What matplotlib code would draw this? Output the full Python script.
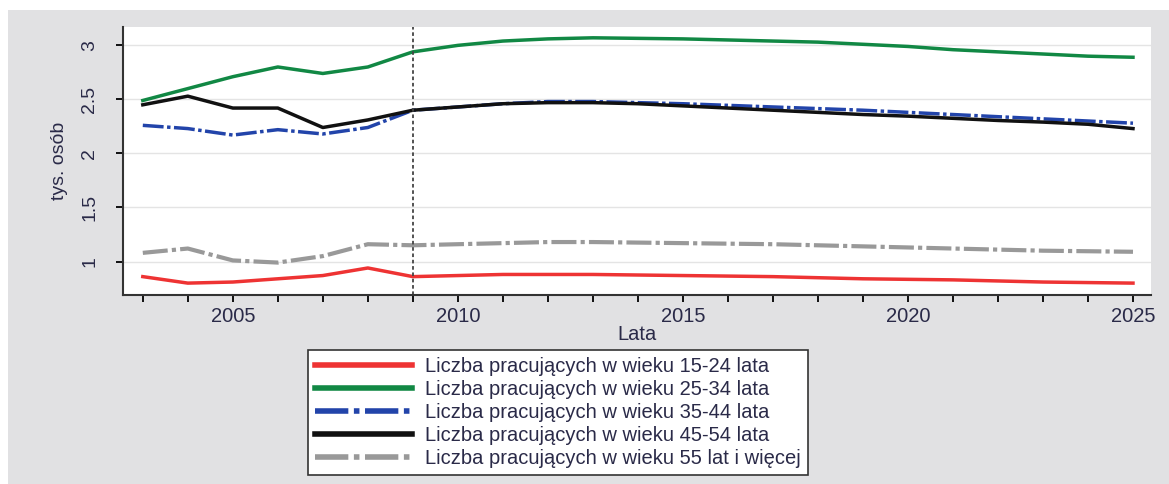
import numpy as np
import matplotlib.pyplot as plt
from matplotlib.patches import Rectangle

plt.rcParams['font.family'] = ['Liberation Sans', 'DejaVu Sans']

years = list(range(2003, 2026))

# liczba pracujacych, tys. osob
age_15_24 = [0.86, 0.80, 0.81, 0.84, 0.87, 0.94, 0.86, 0.87, 0.88, 0.88, 0.88, 0.875, 0.87,
             0.865, 0.86, 0.85, 0.84, 0.835, 0.83, 0.82, 0.81, 0.805, 0.80]
age_25_34 = [2.49, 2.60, 2.71, 2.80, 2.74, 2.80, 2.94, 3.00, 3.04, 3.06, 3.07, 3.065, 3.06,
             3.05, 3.04, 3.03, 3.01, 2.99, 2.96, 2.94, 2.92, 2.90, 2.89]
age_35_44 = [2.26, 2.23, 2.17, 2.22, 2.18, 2.24, 2.40, 2.43, 2.46, 2.48, 2.48, 2.47, 2.46,
             2.445, 2.43, 2.415, 2.40, 2.38, 2.36, 2.34, 2.32, 2.30, 2.28]
age_45_54 = [2.45, 2.53, 2.42, 2.42, 2.24, 2.31, 2.40, 2.43, 2.46, 2.47, 2.47, 2.46, 2.44,
             2.42, 2.40, 2.38, 2.36, 2.345, 2.325, 2.305, 2.29, 2.27, 2.23]
age_55 = [1.08, 1.12, 1.01, 0.99, 1.05, 1.16, 1.15, 1.16, 1.17, 1.18, 1.18, 1.175, 1.17,
          1.165, 1.16, 1.15, 1.14, 1.13, 1.12, 1.11, 1.10, 1.095, 1.09]

labels = ["Liczba pracujących w wieku 15-24 lata",
          "Liczba pracujących w wieku 25-34 lata",
          "Liczba pracujących w wieku 35-44 lata",
          "Liczba pracujących w wieku 45-54 lata",
          "Liczba pracujących w wieku 55 lat i więcej"]

txt = '#2a2a48'

fig = plt.figure(figsize=(11.69, 4.84), dpi=100)
fig.patches.append(Rectangle((8/1169, 0), 1, 1 - 10/484, transform=fig.transFigure,
                             facecolor='#e1e1e3', edgecolor='none', zorder=-1))

ax = fig.add_axes([123/1169, 1 - 295/484, 1028/1169, 268/484])
ax.set_facecolor('white')

ax.plot(years, age_15_24, color='#ee3333', lw=2.5, label=labels[0])
ax.plot(years, age_25_34, color='#118844', lw=2.5, label=labels[1])
ax.plot(years, age_35_44, color='#2244aa', lw=2.5, ls=(0, (6, 1, 1, 1)), label=labels[2])
ax.plot(years, age_45_54, color='#111111', lw=2.5, label=labels[3])
ax.plot(years, age_55, color='#999999', lw=3, ls=(0, (6, 1, 1, 1)), label=labels[4])

ax.axvline(2009, color='#444444', lw=1.3, ls=(0, (2, 1.5)))

ax.set_xlim(2002.56, 2025.4)
ax.set_ylim(0.69, 3.17)
ax.set_xticks([2005, 2010, 2015, 2020, 2025])
ax.set_xticks(years, minor=True)
ax.set_yticks([1, 1.5, 2, 2.5, 3])
ax.set_yticklabels(['1', '1.5', '2', '2.5', '3'], rotation=90, va='center')
ax.grid(axis='y', color='#e4e4e4', lw=1)
ax.set_axisbelow(True)

for s in ['top', 'right']:
    ax.spines[s].set_visible(False)
for s in ['left', 'bottom']:
    ax.spines[s].set_linewidth(1.5)
    ax.spines[s].set_color('#333333')

ax.tick_params(axis='x', which='both', direction='out', length=5, width=1.3,
               labelsize=14.5, labelcolor=txt, pad=4)
ax.tick_params(axis='y', direction='out', length=5, width=1.3, labelsize=14,
               labelcolor=txt, pad=13)

ax.set_xlabel('Lata', fontsize=14.5, color=txt, labelpad=-1)
ax.set_ylabel('tys. osób', fontsize=14, color=txt, labelpad=9)

leg = fig.legend(loc='lower left', bbox_to_anchor=(308/1169, 9/484), fontsize=14.5,
                 frameon=True, fancybox=False, edgecolor='#333333', framealpha=1,
                 handlelength=4.8, handletextpad=0.65, labelspacing=0.2,
                 borderpad=0.35, borderaxespad=0, labelcolor=txt)
leg.get_frame().set_linewidth(1.2)
for h in leg.get_lines():
    h.set_linewidth(4)

fig.savefig('out.png', dpi=100)
